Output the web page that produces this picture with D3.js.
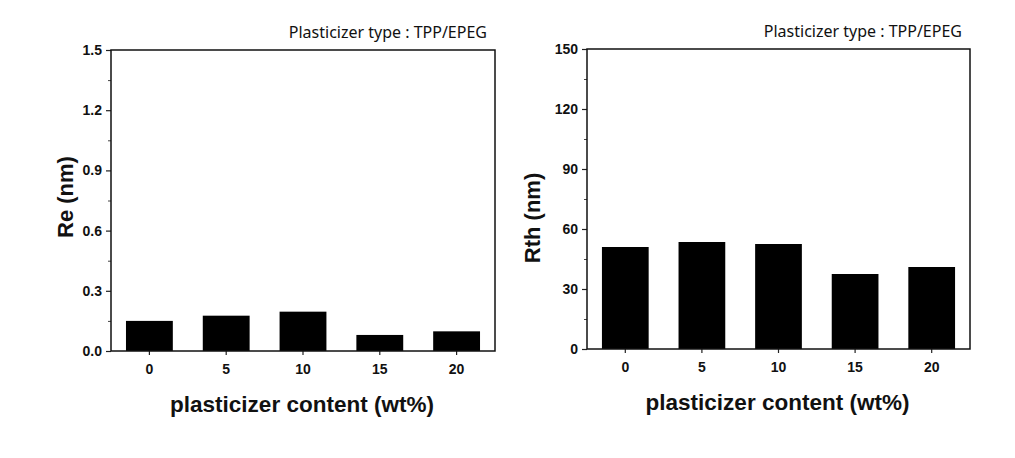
<!DOCTYPE html>
<html>
<head>
<meta charset="utf-8">
<script src="https://cdn.jsdelivr.net/npm/d3@7"></script>
<style>
  body { margin: 0; background: #fff; }
  text { font-family: Arial, "Liberation Sans", sans-serif; }
</style>
</head>
<body>
<svg id="chart" width="1015" height="458"></svg>
<script>
// categories (plasticizer content, wt%)
var categories = ["0", "5", "10", "15", "20"]
// series values
var reValues = [0.15, 0.176, 0.196, 0.08, 0.098]
var rthValues = [51, 53.5, 52.5, 37.5, 41]
// y tick labels
var reTicks = [0.0, 0.3, 0.6, 0.9, 1.2, 1.5]
var rthTicks = [0, 30, 60, 90, 120, 150]
var titleText = "Plasticizer type : TPP/EPEG"
var xLabel = "plasticizer content (wt%)"

var svg = d3.select("#chart")

function drawPanel(opt) {
  var g = svg.append("g")

  var x = d3.scaleBand()
    .domain(categories)
    .range([opt.left, opt.right])
    .paddingInner(0.39)
    .paddingOuter(0.195)

  var y = d3.scaleLinear()
    .domain([opt.ticks[0], opt.ticks[opt.ticks.length - 1]])
    .range([opt.bottom, opt.top])

  // bars
  g.selectAll("rect.bar")
    .data(opt.values)
    .enter()
    .append("rect")
      .attr("class", "bar")
      .attr("x", (d, i) => x(categories[i]))
      .attr("width", x.bandwidth())
      .attr("y", d => y(d))
      .attr("height", d => y(0) - y(d))
      .attr("fill", "#000")

  // minor ticks halfway between the major ones
  var step = opt.ticks[1] - opt.ticks[0]
  var minor = opt.ticks.slice(0, -1).map(t => t + step / 2)

  var yAxis = d3.axisLeft(y)
    .tickValues(opt.ticks)
    .tickFormat(opt.fmt)
    .tickSize(5)
    .tickPadding(4)
  var ya = g.append("g")
    .attr("transform", "translate(" + opt.left + ",0)")
    .call(yAxis)
  ya.select(".domain").remove()
  ya.selectAll("line").attr("stroke", "#222").attr("stroke-width", 1.2)
  ya.selectAll("text")
    .style("font-size", "14px")
    .style("font-weight", "bold")
    .attr("fill", "#111")

  g.append("g")
    .attr("transform", "translate(" + opt.left + ",0)")
    .call(d3.axisLeft(y).tickValues(minor).tickSize(3).tickFormat(""))
    .call(s => s.select(".domain").remove())
    .selectAll("line").attr("stroke", "#444").attr("stroke-width", 1)

  var xAxis = d3.axisBottom(x)
    .tickSize(4)
    .tickPadding(9)
  var xa = g.append("g")
    .attr("transform", "translate(0," + opt.bottom + ")")
    .call(xAxis)
  xa.select(".domain").remove()
  xa.selectAll("line").attr("stroke", "#222").attr("stroke-width", 1.2)
  xa.selectAll("text")
    .style("font-size", "14px")
    .style("font-weight", "bold")
    .attr("fill", "#111")

  // frame
  g.append("rect")
    .attr("x", opt.left)
    .attr("y", opt.top)
    .attr("width", opt.right - opt.left)
    .attr("height", opt.bottom - opt.top)
    .attr("fill", "none")
    .attr("stroke", "#111")
    .attr("stroke-width", 1.5)

  // y label
  g.append("text")
    .attr("transform", "translate(" + opt.yLabelX + "," + opt.yLabelY + ") rotate(-90)")
    .attr("text-anchor", "middle")
    .style("font-size", "22px")
    .style("font-weight", "bold")
    .attr("fill", "#111")
    .text(opt.yLabel)

  // x label
  g.append("text")
    .attr("x", (opt.left + opt.right) / 2 - 1)
    .attr("y", opt.bottom + 61)
    .attr("text-anchor", "middle")
    .style("font-size", "22.5px")
    .style("font-weight", "bold")
    .attr("fill", "#111")
    .text(xLabel)

  // annotation
  g.append("text")
    .attr("x", opt.right - 8)
    .attr("y", opt.top - 12)
    .attr("text-anchor", "end")
    .style("font-family", "'Noto Sans', sans-serif")
    .style("font-size", "16px")
    .attr("fill", "#111")
    .text(titleText)
}

drawPanel({
  left: 111, right: 495, top: 50, bottom: 351,
  values: reValues, ticks: reTicks, fmt: d3.format(".1f"),
  yLabel: "Re (nm)", yLabelX: 73, yLabelY: 197
})

drawPanel({
  left: 587, right: 970, top: 49, bottom: 349,
  values: rthValues, ticks: rthTicks, fmt: d3.format("d"),
  yLabel: "Rth (nm)", yLabelX: 540, yLabelY: 218
})
</script>
</body>
</html>
